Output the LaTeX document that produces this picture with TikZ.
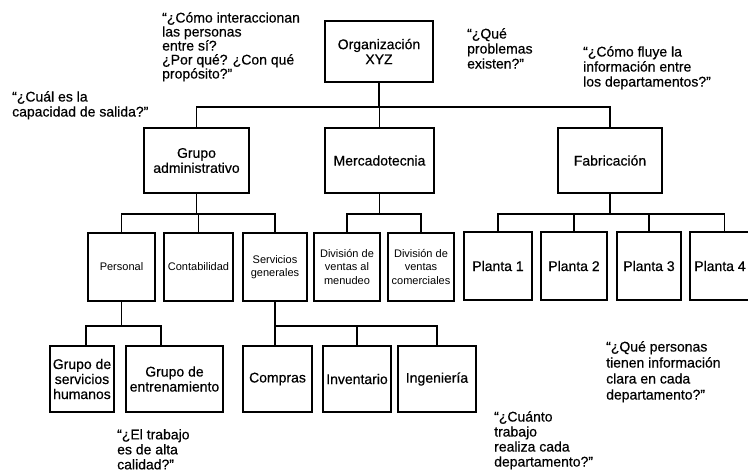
\documentclass[tikz,border=0pt]{standalone}
\usepackage{fontspec}
\setmainfont{Liberation Sans}
\newfontfamily\scanfont{Liberation Sans}[FakeBold=0.5]
\usetikzlibrary{positioning}

\begin{document}
\begin{tikzpicture}[x=1pt,y=-1pt,
  box/.style={draw,line width=1.1pt,inner sep=1pt,align=center,
    font=\scanfont\fontsize{14}{15}\selectfont},
  smallbox/.style={box,font=\fontsize{11}{13.5}\selectfont},
  question/.style={anchor=north west,inner sep=0pt,align=left,
    font=\scanfont\fontsize{14}{15}\selectfont},
  link/.style={line width=1.1pt}]
\useasboundingbox (0,0) rectangle (748,476);

% Top
\node[box,minimum width=108pt,minimum height=61pt] (org) at (379,51.5) {Organización\\XYZ};

% Departments
\node[box,minimum width=105pt,minimum height=65pt] (ga) at (196.5,160.5) {Grupo\\administrativo};
\node[box,minimum width=109pt,minimum height=65pt] (mkt) at (379.5,160.5) {Mercadotecnia};
\node[box,minimum width=104pt,minimum height=65pt] (fab) at (610,160.5) {Fabricación};

% Second level
\node[smallbox,minimum width=67pt,minimum height=68pt] (pers) at (121.5,267) {Personal};
\node[smallbox,minimum width=69pt,minimum height=68pt] (conta) at (198.5,267) {Contabilidad};
\node[smallbox,minimum width=64pt,minimum height=68pt] (servg) at (275,267) {Servicios\\generales};
\node[smallbox,minimum width=66pt,minimum height=68pt] (divmen) at (347,267) {División de\\ventas al\\menudeo};
\node[smallbox,minimum width=66pt,minimum height=68pt] (divcom) at (421,267) {División de\\ventas\\comerciales};
\node[box,minimum width=68pt,minimum height=68pt] (p1) at (498,266) {Planta 1};
\node[box,minimum width=66pt,minimum height=68pt] (p2) at (574,266) {Planta 2};
\node[box,minimum width=64pt,minimum height=68pt] (p3) at (649,266) {Planta 3};
\node[box,minimum width=69pt,minimum height=68pt] (p4) at (724.5,266) {Planta 4\hspace*{9pt}};

% Third level
\node[box,minimum width=64pt,minimum height=66pt] (gsh) at (82,379) {Grupo de\\servicios\\humanos};
\node[box,minimum width=97pt,minimum height=66pt] (gent) at (174.5,379) {Grupo de\\entrenamiento};
\node[box,minimum width=69pt,minimum height=66pt] (compras) at (277.5,379) {Compras};
\node[box,minimum width=68pt,minimum height=66pt] (inv) at (357,379) {Inventario};
\node[box,minimum width=78pt,minimum height=66pt] (ing) at (437,379) {Ingeniería};

% Bus lines
\coordinate (bus1) at (0,107);
\coordinate (bus2) at (0,214);
\coordinate (bus3) at (0,326);
\coordinate (gshdrop) at ([xshift=4pt]gsh.north);
\coordinate (gentdrop) at ([xshift=-13.5pt]gent.north);

\draw[link] (org.south) -- (org.south |- bus1);
\draw[link] (ga.north) |- (fab.north |- bus1) -- (fab.north);
\draw[link] (mkt.north) -- (mkt.north |- bus1);

\draw[link] (ga.south) -- (ga.south |- bus2);
\draw[link] (pers.north) |- (servg.north |- bus2) -- (servg.north);
\draw[link] (conta.north) -- (conta.north |- bus2);

\draw[link] (mkt.south) -- (mkt.south |- bus2);
\draw[link] (divmen.north) |- (divcom.north |- bus2) -- (divcom.north);

\draw[link] (fab.south) -- (fab.south |- bus2);
\draw[link] (p1.north) |- (p4.north |- bus2) -- (p4.north);
\draw[link] (p2.north) -- (p2.north |- bus2);
\draw[link] (p3.north) -- (p3.north |- bus2);

\draw[link] (pers.south) -- (pers.south |- bus3);
\draw[link] (gshdrop) |- (gentdrop |- bus3) -- (gentdrop);

\draw[link] (servg.south) -- (servg.south |- compras.north);
\draw[link] (servg.south |- bus3) -| (ing.north);
\draw[link] (inv.north) -- (inv.north |- bus3);

% Questions
\node[question,font=\scanfont\fontsize{14}{14}\selectfont] (q1) at (162,12) {“¿Cómo interaccionan\\las personas\\entre sí?\\¿Por qué? ¿Con qué\\propósito?”};
\node[question] (q2) at (12,91) {“¿Cuál es la\\capacidad de salida?”};
\node[question] (q3) at (467,28) {“¿Qué\\problemas\\existen?”};
\node[question] (q4) at (583,46) {“¿Cómo fluye la\\información entre\\los departamentos?”};
\node[question] (q5) at (117,429) {“¿El trabajo\\es de alta\\calidad?”};
\node[question] (q6) at (494,411) {“¿Cuánto\\trabajo\\realiza cada\\departamento?”};
\node[question,font=\scanfont\fontsize{14}{16}\selectfont] (q7) at (606,341) {“¿Qué personas\\tienen información\\clara en cada\\departamento?”};
\end{tikzpicture}
\end{document}
